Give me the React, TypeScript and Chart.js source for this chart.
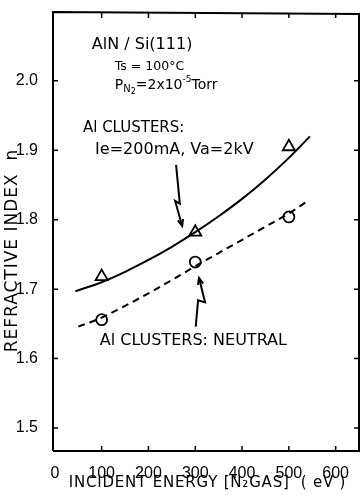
import React, { useEffect, useRef } from "react";
import { Chart, registerables } from "chart.js";
Chart.register(...registerables);

const energyTicks = [0, 100, 200, 300, 400, 500, 600];
const indexTicks = [1.5, 1.6, 1.7, 1.8, 1.9, 2.0];
const measuredEnergy = [100, 300, 500];
const chargedIndex = [1.718, 1.782, 1.905];
const neutralIndex = [1.656, 1.739, 1.804];
const chargedFitEnergy = [44, 100, 150, 200, 250, 300, 350, 400, 450, 500, 545];
const chargedFitIndex = [1.697, 1.71, 1.725, 1.742, 1.761, 1.782, 1.805, 1.83, 1.858, 1.889, 1.92];
const neutralFitEnergy = [50, 100, 150, 200, 250, 300, 350, 400, 450, 500, 538];
const neutralFitIndex = [1.646, 1.659, 1.676, 1.694, 1.713, 1.733, 1.752, 1.771, 1.79, 1.809, 1.826];

const xTitle = "INCIDENT ENERGY [N\u2082GAS]  ( eV )";
const yTitle = "REFRACTIVE INDEX  n";
const chargedArrow = [[259, 1.879], [267, 1.823], [257, 1.827], [272, 1.791]];
const neutralArrow = [[301, 1.646], [306, 1.684], [321, 1.681], [308, 1.716]];

const FONT = "'DejaVu Sans', sans-serif";
const TICK_FONT = "'Liberation Sans', Arial, sans-serif";

const decorPlugin = {
  id: "decor",
  afterDraw(chart: any) {
    const { ctx, chartArea: a, scales } = chart;
    const xs = scales.x;
    const ys = scales.y;
    const px = (v: number) => xs.getPixelForValue(v);
    const py = (v: number) => ys.getPixelForValue(v);
    ctx.save();
    ctx.strokeStyle = "#000";
    ctx.fillStyle = "#000";
    ctx.lineWidth = 2;
    ctx.beginPath();
    ctx.moveTo(a.left, a.bottom);
    ctx.lineTo(a.left, a.top);
    ctx.lineTo(a.right - 1, a.top + 2);
    ctx.lineTo(a.right - 1, a.bottom);
    ctx.lineTo(a.left, a.bottom);
    ctx.stroke();
    ctx.lineWidth = 1.5;
    const tl = 5;
    energyTicks.forEach((v) => {
      const x = px(v);
      if (v === 0) return;
      ctx.beginPath();
      ctx.moveTo(x, a.bottom);
      ctx.lineTo(x, a.bottom - tl);
      ctx.moveTo(x, a.top + 1);
      ctx.lineTo(x, a.top + 1 + tl);
      ctx.stroke();
    });
    indexTicks.forEach((v) => {
      const y = py(v);
      ctx.beginPath();
      ctx.moveTo(a.left, y);
      ctx.lineTo(a.left + tl, y);
      ctx.moveTo(a.right - 1, y);
      ctx.lineTo(a.right - 1 - tl, y);
      ctx.stroke();
    });

    ctx.textBaseline = "middle";
    ctx.textAlign = "left";
    const text = (s: string, xv: number, yv: number, size: number) => {
      ctx.font = `${size}px ${FONT}`;
      ctx.fillText(s, px(xv), py(yv));
    };
    text("AlN / Si(111)", 79, 2.051, 16);
    text("Ts = 100\u00b0C", 128, 2.02, 12.5);
    let cx = px(128);
    const cy = py(1.994);
    const seg = (s: string, size: number, dy: number) => {
      ctx.font = `${size}px ${FONT}`;
      ctx.fillText(s, cx, cy + dy);
      cx += ctx.measureText(s).width;
    };
    seg("P", 14, 0);
    seg("N", 10, 4);
    seg("2", 8, 7);
    seg("=2x10", 14, 0);
    seg("-5", 9, -5);
    seg("Torr", 14, 0);
    text("Al CLUSTERS:", 60, 1.932, 15);
    text("Ie=200mA, Va=2kV", 86, 1.9, 16);
    text("Al CLUSTERS: NEUTRAL", 96, 1.625, 16);

    ctx.lineWidth = 2;
    const arrow = (pts: number[][]) => {
      ctx.beginPath();
      pts.forEach((p, i) => {
        const x = px(p[0]);
        const y = py(p[1]);
        if (i === 0) ctx.moveTo(x, y);
        else ctx.lineTo(x, y);
      });
      ctx.stroke();
      const n = pts.length;
      const x1 = px(pts[n - 2][0]);
      const y1 = py(pts[n - 2][1]);
      const x2 = px(pts[n - 1][0]);
      const y2 = py(pts[n - 1][1]);
      const ang = Math.atan2(y2 - y1, x2 - x1);
      const hl = 7;
      ctx.beginPath();
      ctx.moveTo(x2 - hl * Math.cos(ang - 0.4), y2 - hl * Math.sin(ang - 0.4));
      ctx.lineTo(x2, y2);
      ctx.lineTo(x2 - hl * Math.cos(ang + 0.4), y2 - hl * Math.sin(ang + 0.4));
      ctx.stroke();
    };
    arrow(chargedArrow);
    arrow(neutralArrow);

    ctx.textAlign = "center";
    ctx.font = `15px ${FONT}`;
    (ctx as any).letterSpacing = "0.8px";
    ctx.fillText(xTitle, (a.left + a.right) / 2 + 1, a.bottom + 32);
    ctx.save();
    ctx.translate(a.left - 40, (a.top + a.bottom) / 2 + 19);
    ctx.rotate(-Math.PI / 2);
    ctx.font = `17px ${FONT}`;
    (ctx as any).letterSpacing = "1px";
    ctx.fillText(yTitle, 0, 0);
    ctx.restore();
    (ctx as any).letterSpacing = "0px";
    ctx.restore();
  },
};

export default function App() {
  const ref = useRef<HTMLCanvasElement>(null);
  useEffect(() => {
    document.body.style.margin = "0";
    const canvas = ref.current!;
    const chart = new Chart(canvas, {
      type: "scatter",
      data: {
        datasets: [
          {
            data: chargedFitEnergy.map((x, i) => ({ x, y: chargedFitIndex[i] })),
            showLine: true,
            borderColor: "#000",
            borderWidth: 2,
            pointRadius: 0,
            cubicInterpolationMode: "monotone",
          },
          {
            data: neutralFitEnergy.map((x, i) => ({ x, y: neutralFitIndex[i] })),
            showLine: true,
            borderColor: "#000",
            borderWidth: 2,
            borderDash: [7, 5],
            pointRadius: 0,
            cubicInterpolationMode: "monotone",
          },
          {
            data: measuredEnergy.map((x, i) => ({ x, y: chargedIndex[i] })),
            pointStyle: "triangle",
            pointRadius: 7,
            borderColor: "#000",
            backgroundColor: "rgba(0,0,0,0)",
            borderWidth: 1.8,
          },
          {
            data: measuredEnergy.map((x, i) => ({ x, y: neutralIndex[i] })),
            pointStyle: "circle",
            pointRadius: 5.5,
            borderColor: "#000",
            backgroundColor: "rgba(0,0,0,0)",
            borderWidth: 1.8,
          },
        ],
      },
      options: {
        animation: false,
        responsive: true,
        maintainAspectRatio: false,
        layout: { autoPadding: false, padding: { top: 12, right: 1, left: 0, bottom: 0 } },
        plugins: { legend: { display: false }, tooltip: { enabled: false } },
        scales: {
          x: {
            type: "linear",
            min: -4,
            max: 652,
            grid: { display: false },
            border: { display: false },
            afterBuildTicks: (s: any) => {
              s.ticks = energyTicks.map((v) => ({ value: v }));
            },
            afterFit: (s: any) => {
              s.height = 44;
              s.paddingLeft = 0;
              s.paddingRight = 0;
            },
            ticks: {
              color: "#000",
              padding: 5,
              maxRotation: 0,
              autoSkip: false,
              font: { family: TICK_FONT, size: 16 },
              callback: (v: any) => String(v),
            },
          },
          y: {
            type: "linear",
            min: 1.467,
            max: 2.099,
            grid: { display: false },
            border: { display: false },
            afterBuildTicks: (s: any) => {
              s.ticks = indexTicks.map((v) => ({ value: v }));
            },
            afterFit: (s: any) => {
              s.width = 53;
              s.paddingTop = 0;
              s.paddingBottom = 0;
            },
            ticks: {
              color: "#000",
              padding: 7,
              autoSkip: false,
              font: { family: TICK_FONT, size: 16 },
              callback: (v: any) => Number(v).toFixed(1),
            },
          },
        },
      },
      plugins: [decorPlugin],
    } as any);
    return () => chart.destroy();
  }, []);
  return (
    <div style={{ width: 361, height: 495, position: "absolute", left: 0, top: 0, overflow: "hidden" }}>
      <canvas ref={ref} style={{ display: "block" }} />
    </div>
  );
}
